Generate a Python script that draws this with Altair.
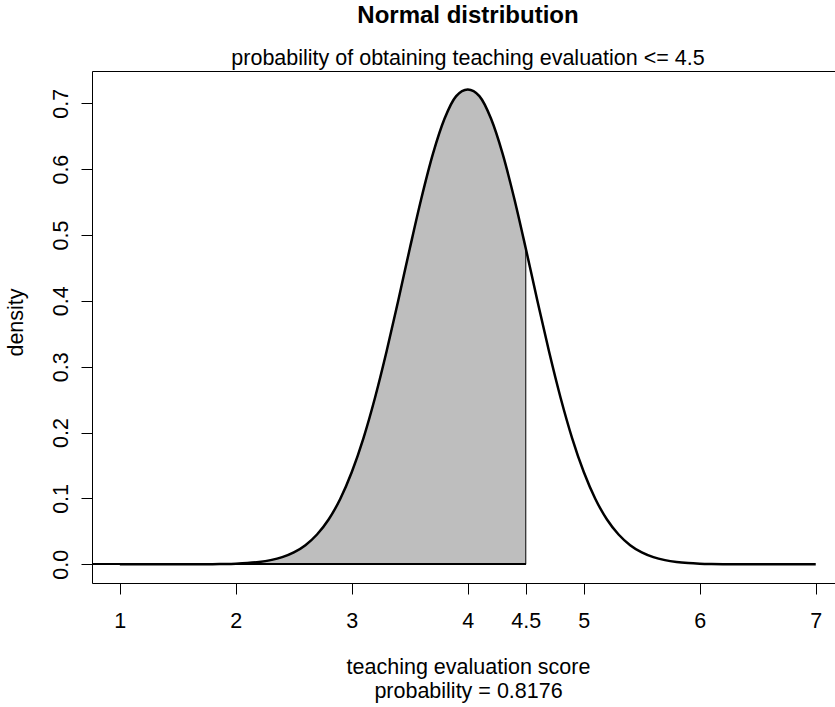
import altair as alt
import pandas as pd

# teaching evaluation score (x) and normal density (y)
score = [1.0, 1.1, 1.2, 1.3, 1.4, 1.5, 1.6, 1.7, 1.8, 1.9,
         2.0, 2.1, 2.2, 2.3, 2.4, 2.5, 2.6, 2.7, 2.8, 2.9,
         3.0, 3.1, 3.2, 3.3, 3.4, 3.5, 3.6, 3.7, 3.8, 3.9,
         4.0, 4.1, 4.2, 4.3, 4.4, 4.5, 4.6, 4.7, 4.8, 4.9,
         5.0, 5.1, 5.2, 5.3, 5.4, 5.5, 5.6, 5.7, 5.8, 5.9,
         6.0, 6.1, 6.2, 6.3, 6.4, 6.5, 6.6, 6.7, 6.8, 6.9, 7.0]
density = [0.0, 0.0, 0.0, 0.0, 0.0, 0.0, 0.0, 0.0001, 0.0002, 0.0005,
           0.0010, 0.0019, 0.0035, 0.0063, 0.0108, 0.0180, 0.0290, 0.0452, 0.0680, 0.0992,
           0.1401, 0.1913, 0.2529, 0.3234, 0.4003, 0.4795, 0.5558, 0.6235, 0.6768, 0.7109,
           0.7210, 0.7109, 0.6768, 0.6235, 0.5558, 0.4795, 0.4003, 0.3234, 0.2529, 0.1913,
           0.1401, 0.0992, 0.0680, 0.0452, 0.0290, 0.0180, 0.0108, 0.0063, 0.0035, 0.0019,
           0.0010, 0.0005, 0.0002, 0.0001, 0.0, 0.0, 0.0, 0.0, 0.0, 0.0, 0.0]

cutoff = 4.5
x_ticks = [1, 2, 3, 4, 4.5, 5, 6, 7]
y_ticks = [0.0, 0.1, 0.2, 0.3, 0.4, 0.5, 0.6, 0.7]
x_domain = [0.76, 7.166]
y_domain = [-0.0284, 0.749]

title_text = "Normal distribution"
subtitle_text = "probability of obtaining teaching evaluation <= 4.5"
x_title = ["teaching evaluation score", "probability = 0.8176"]
y_title = "density"

FONT = "Liberation Sans, Arial, Helvetica, sans-serif"
FS = 21.5
W, H = 743, 512

df = pd.DataFrame({"x": score, "y": density})

x_scale = alt.Scale(domain=x_domain, nice=False, zero=False)
y_scale = alt.Scale(domain=y_domain, nice=False, zero=False)

bottom_axis = alt.Axis(
    orient="bottom", values=x_ticks, format=".2~g", grid=False,
    domain=True, domainColor="black", domainWidth=1,
    ticks=True, tickSize=11, tickColor="black", tickWidth=1,
    labelFont=FONT, labelFontSize=FS, labelColor="black", labelPadding=16,
    labelFlush=False, labelOverlap=False,
    title=x_title, titleFont=FONT, titleFontSize=FS, titleFontWeight="normal",
    titleColor="black", titleLineHeight=24, titleBaseline="alphabetic",
    titleAlign="center", titleAnchor="start", titleX=376, titleY=90,
)

top_axis = alt.Axis(
    orient="top", grid=False, labels=False, ticks=False, title=None,
    domain=True, domainColor="black", domainWidth=1,
)

left_axis = alt.Axis(
    orient="left", values=y_ticks, format=".1f", grid=False,
    domain=True, domainColor="black", domainWidth=1,
    ticks=True, tickSize=11, tickColor="black", tickWidth=1,
    labelFont=FONT, labelFontSize=FS, labelColor="black", labelPadding=14,
    labelAngle=270, labelAlign="center", labelBaseline="alphabetic",
    labelFlush=False, labelOverlap=False,
    title=y_title, titleFont=FONT, titleFontSize=FS, titleFontWeight="normal",
    titleColor="black", titleAngle=270, titleAlign="center",
    titleBaseline="alphabetic", titleAnchor="start", titleX=-70, titleY=251,
)

shade = alt.Chart(df).transform_filter(
    alt.datum.x <= cutoff
).mark_area(
    color="#BEBEBE", stroke="black", strokeWidth=1, interpolate="monotone", opacity=1
).encode(
    x=alt.X("x:Q", scale=x_scale, axis=top_axis),
    y=alt.Y("y:Q", scale=y_scale, axis=left_axis),
)

baseline = alt.Chart(df).mark_rule(color="black", strokeWidth=1).encode(
    x=alt.X(datum=x_domain[0], scale=x_scale, axis=None),
    x2=alt.X2(datum=cutoff),
    y=alt.Y(datum=0, scale=y_scale, axis=left_axis),
)

curve = alt.Chart(df).mark_line(
    color="black", strokeWidth=2.5, interpolate="monotone"
).encode(
    x=alt.X("x:Q", scale=x_scale, axis=bottom_axis),
    y=alt.Y("y:Q", scale=y_scale, axis=left_axis),
)

chart = alt.layer(shade, baseline, curve).properties(
    width=W, height=H,
    autosize="none",
    padding={"left": 92, "top": 71, "right": 0, "bottom": 124},
    title=alt.TitleParams(
        text=title_text, subtitle=subtitle_text, anchor="middle",
        font=FONT, fontSize=24, fontWeight="bold", color="black",
        subtitleFont=FONT, subtitleFontSize=FS, subtitleColor="black",
        subtitlePadding=20, offset=2, dx=4.5,
    ),
).configure_view(stroke=None).configure(background="white")

chart.save("out.html", embed_options={"renderer": "svg", "actions": False})
